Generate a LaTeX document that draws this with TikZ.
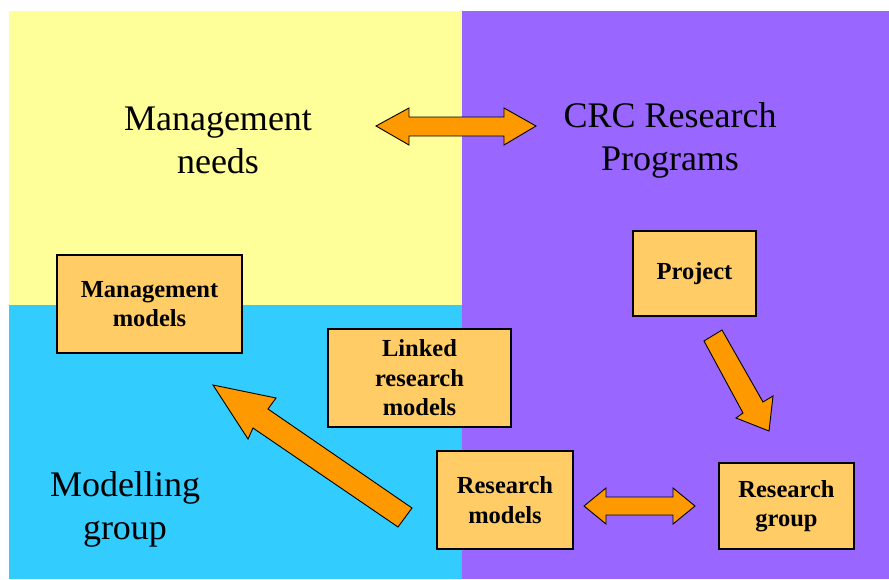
\documentclass[tikz,border=0pt]{standalone}
\usepackage{fontspec}
\setmainfont{Liberation Serif}
\definecolor{mgmtyellow}{HTML}{FFFF99}
\definecolor{crcpurple}{HTML}{9966FF}
\definecolor{modcyan}{HTML}{33CCFF}
\definecolor{boxfill}{HTML}{FFCC66}
\definecolor{arrowfill}{HTML}{FF9900}
\begin{document}
\begin{tikzpicture}[x=1pt,y=-1pt,
  modelbox/.style={draw=black,line width=1.2pt,fill=boxfill,align=center,
    font=\bfseries\fontsize{24.5}{29.5}\selectfont,inner sep=0pt},
  areatitle/.style={align=center,font=\fontsize{36}{43}\selectfont},
  blockarrow/.style={draw=black,line width=0.9pt,fill=arrowfill,line join=miter}]
\useasboundingbox (0,0) rectangle (889,579);

% quadrants
\fill[mgmtyellow] (9,11) rectangle (462,305);
\fill[modcyan] (9,305) rectangle (462,579);
\fill[crcpurple] (462,11) rectangle (889,579);

% area titles
\node[areatitle] (needs) at (218,140) {Management\\needs};
\node[areatitle] (crc) at (670,140) {CRC Research\\Programs};
\node[areatitle] (modgroup) at (125,509) {Modelling\\group};

% boxes
\node[modelbox,minimum width=185pt,minimum height=98pt] (mgmtmodels) at (149.5,304) {Management\\models};
\node[modelbox,minimum width=123pt,minimum height=85pt] (project) at (694.5,273.5) {\raisebox{-3pt}{Project}};
\node[modelbox,minimum width=183pt,minimum height=98pt] (linked) at (419.5,378) {Linked\\research\\models};
\node[modelbox,minimum width=136pt,minimum height=98pt] (resmodels) at (505,500) {Research\\models};
\node[modelbox,minimum width=135pt,minimum height=86pt] (resgroup) at (786.5,506) {Research\\group};

% block arrows
\draw[blockarrow] (376,126) -- (409,108) -- (409,117) -- (504,117) -- (504,108)
  -- (536,126) -- (504,145) -- (504,136) -- (409,136) -- (409,145) -- cycle;
\draw[blockarrow] (584,506) -- (606,488) -- (606,497) -- (673,497) -- (673,488)
  -- (695,506) -- (673,524) -- (673,515) -- (606,515) -- (606,524) -- cycle;
\draw[blockarrow] (213,385) -- (276,398) -- (268,409) -- (412,508) -- (398,527)
  -- (253,428) -- (248,439) -- cycle;
\draw[blockarrow] (704,341) -- (722,330) -- (763,402) -- (773,396) -- (769,431)
  -- (736,418) -- (743,413) -- cycle;
\end{tikzpicture}
\end{document}
